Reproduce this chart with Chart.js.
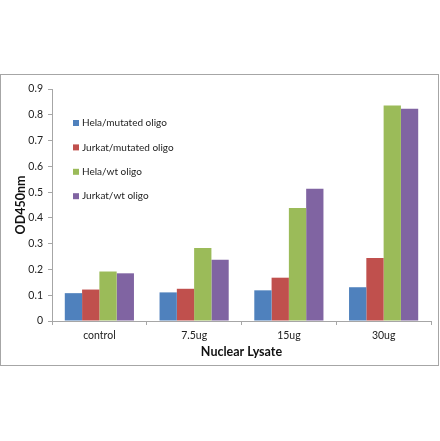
<!DOCTYPE html>
<html><head><meta charset="utf-8">
<script src="https://cdn.jsdelivr.net/npm/chart.js@4.4.0/dist/chart.umd.min.js"></script>
<style>html,body{margin:0;padding:0;background:#fff}canvas{display:block}</style>
</head><body>
<canvas id="c" width="440" height="441"></canvas>
<script>
const categories = ["control", "7.5ug", "15ug", "30ug"];
const seriesNames = ["Hela/mutated oligo", "Jurkat/mutated oligo", "Hela/wt oligo", "Jurkat/wt oligo"];
const helaMutated = [0.108, 0.111, 0.119, 0.131];
const jurkatMutated = [0.122, 0.125, 0.168, 0.244];
const helaWt = [0.192, 0.283, 0.438, 0.836];
const jurkatWt = [0.185, 0.238, 0.513, 0.823];
const colors = ["#4F81BD", "#C0504D", "#9BBB59", "#8064A2"];
const FONT = "Lato, 'Open Sans', sans-serif";

const framePlugin = {
  id: 'frame',
  beforeDraw(chart) {
    const ctx = chart.ctx;
    ctx.save();
    ctx.fillStyle = '#fff';
    ctx.fillRect(0, 0, chart.width, chart.height);
    ctx.strokeStyle = '#A6A6A6';
    ctx.lineWidth = 1;
    ctx.strokeRect(0.5, 74.5, 438, 291);
    ctx.restore();
  }
};

const legendPlugin = {
  id: 'insideLegend',
  afterDraw(chart) {
    const ctx = chart.ctx;
    const x0 = chart.chartArea.left + 21;
    const y0 = chart.chartArea.top + 34;
    ctx.save();
    ctx.font = "10px " + FONT;
    ctx.textBaseline = 'middle';
    chart.data.datasets.forEach((ds, i) => {
      const y = y0 + i * 24.4;
      ctx.fillStyle = ds.backgroundColor;
      ctx.fillRect(x0, y - 3, 6, 6);
      ctx.fillStyle = '#222';
      ctx.fillText(ds.label, x0 + 9, y);
    });
    ctx.restore();
  }
};

new Chart(document.getElementById('c'), {
  type: 'bar',
  data: {
    labels: categories,
    datasets: [helaMutated, jurkatMutated, helaWt, jurkatWt].map((d, i) => ({
      label: seriesNames[i],
      data: d,
      backgroundColor: colors[i],
      borderWidth: 0
    }))
  },
  options: {
    responsive: false,
    animation: false,
    devicePixelRatio: 1,
    categoryPercentage: 0.73,
    barPercentage: 1,
    layout: { padding: { left: 0, top: 89, right: 9, bottom: 78 } },
    plugins: { legend: { display: false }, tooltip: { enabled: false } },
    scales: {
      x: {
        afterFit(s) { s.height = 42; },
        grid: { display: true, offset: true, drawOnChartArea: false, drawTicks: true, tickLength: 4, color: '#A6A6A6' },
        border: { display: true, color: '#A6A6A6' },
        ticks: { font: { size: 10.5, family: FONT }, color: '#222', padding: 4 },
        title: { display: true, text: 'Nuclear Lysate', font: { size: 12.5, weight: 'bold', family: FONT }, color: '#111', padding: { top: 4, bottom: 4 } }
      },
      y: {
        min: 0, max: 0.9,
        afterFit(s) { s.width = 52; },
        grid: { display: true, drawOnChartArea: false, drawTicks: true, tickLength: 4, color: '#A6A6A6' },
        border: { display: true, color: '#A6A6A6' },
        ticks: { stepSize: 0.1, font: { size: 10.5, family: FONT }, color: '#222', padding: 5 },
        title: { display: true, text: 'OD450nm', font: { size: 12.5, weight: 'bold', family: FONT }, color: '#111', padding: { top: 13, bottom: 4 } }
      }
    }
  },
  plugins: [framePlugin, legendPlugin]
});
</script>
</body></html>
